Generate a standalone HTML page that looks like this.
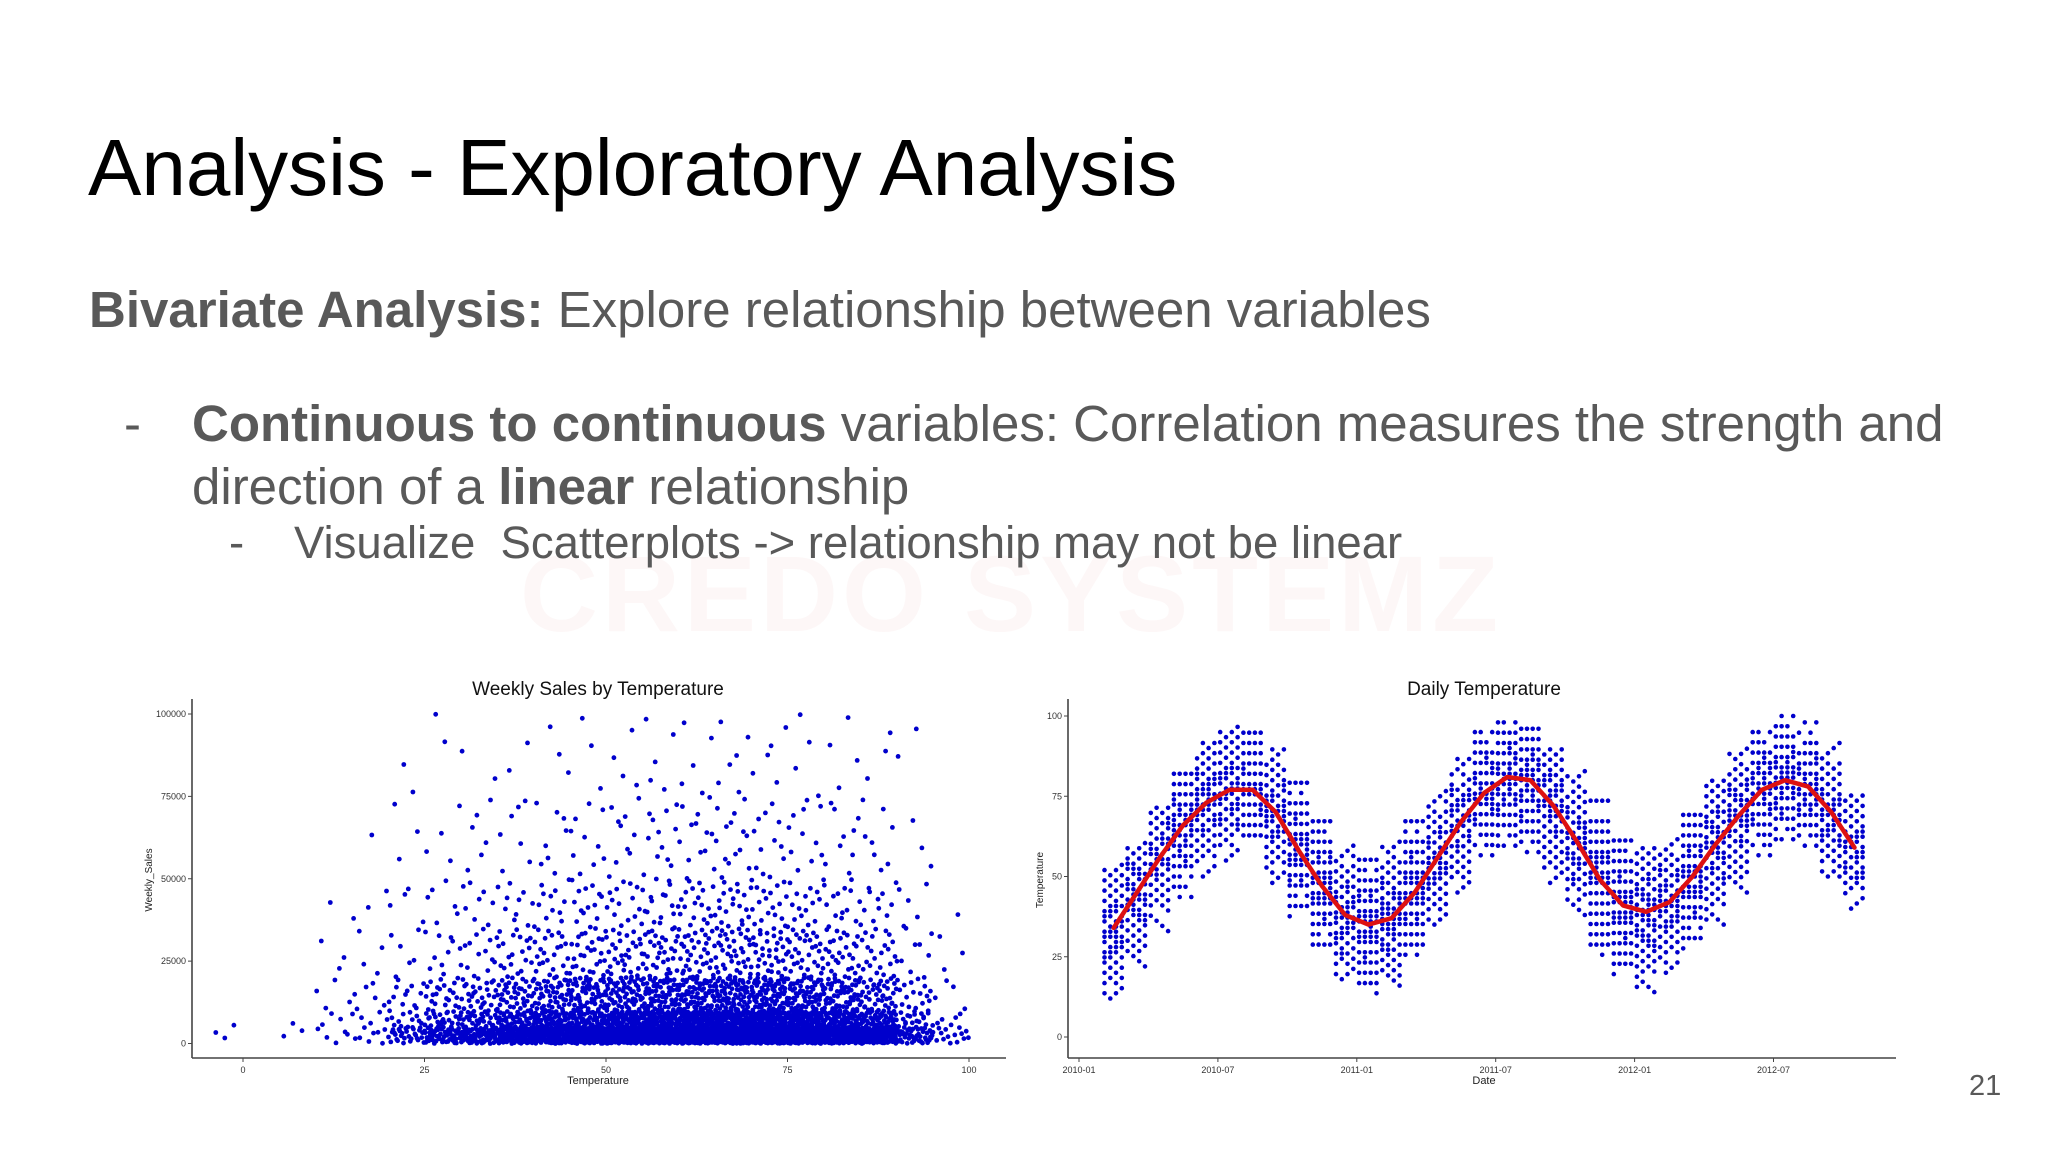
<!DOCTYPE html>
<html><head><meta charset="utf-8">
<style>
html,body{margin:0;padding:0;background:#fff;}
#slide{position:relative;width:2048px;height:1152px;overflow:hidden;background:#fff;font-family:"Liberation Sans",sans-serif;}
.t{position:absolute;white-space:nowrap;line-height:1;color:#595959;}
b{font-weight:bold;}
svg text{font-family:"Liberation Sans",sans-serif;}
</style></head>
<body>
<div id="slide">
<div class="t" style="left:520px;top:540px;font-size:108px;font-weight:bold;color:rgba(200,40,40,0.035);letter-spacing:4px;">CREDO SYSTEMZ</div>
<div class="t" style="left:88px;top:128px;font-size:80px;color:#000;">Analysis - Exploratory Analysis</div>
<div class="t" style="left:89px;top:284px;font-size:51px;"><b>Bivariate Analysis:</b> Explore relationship between variables</div>
<div class="t" style="left:124px;top:398px;font-size:51px;">-</div>
<div class="t" style="left:192px;top:398px;font-size:51px;"><b>Continuous to continuous</b> variables: Correlation measures the strength and</div>
<div class="t" style="left:192px;top:461px;font-size:51px;">direction of a <b>linear</b> relationship</div>
<div class="t" style="left:229px;top:520px;font-size:45.5px;">-</div>
<div class="t" style="left:294px;top:520px;font-size:45.5px;">Visualize&nbsp; Scatterplots -&gt; relationship may not be linear</div>
<div class="t" style="left:1969px;top:1072px;font-size:29px;">21</div>

<svg id="chart" width="2048" height="1152" style="position:absolute;left:0;top:0;">
<g id="left"></g>
<g id="right"></g>
</svg>
</div>
<script>
// ---- Left chart data ----
const tempBins = [-5,0,5,10,15,20,25,30,35,40,45,50,55,60,65,70,75,80,85,90,95];
const salesBands = [0,5000,10000,20000,35000,50000,75000,100000];
const binCounts = [
[2,1,0,0,0,0,0],[0,0,0,0,0,0,0],[2,1,0,0,0,0,0],[5,3,4,3,1,0,0],[8,5,6,4,3,1,0],
[30,12,12,6,4,3,2],[55,25,22,10,6,4,2],[70,30,28,14,8,6,2],[95,45,40,20,10,7,2],
[110,55,48,24,12,8,3],[130,60,55,28,14,10,3],[150,70,60,30,15,10,4],[160,75,65,32,17,12,5],
[175,80,70,35,18,13,5],[190,90,75,38,20,14,6],[180,85,72,36,18,12,5],[160,75,65,32,16,11,4],
[140,65,55,28,14,9,4],[110,50,42,22,11,8,3],[45,20,16,9,5,3,2],[15,5,4,3,1,0,0]];
const xTicksL = [0,25,50,75,100];
const yTicksL = [0,25000,50000,75000,100000];

// ---- Right chart data (month index: 0 = 2010-01) ----
const months = [1,2,3,4,5,6,7,8,9,10,11,12,13,14,15,16,17,18,19,20,21,22,23,24,25,26,27,28,29,30,31,32,33];
const smoothTemp = [34,45,56,66,73,77,77,70,58,47,38,35,37,45,56,67,76,81,80,72,61,49,41,39,42,50,60,69,77,80,78,70,59];
const lowTemp =  [12,22,33,42,50,55,58,48,36,24,18,12,16,24,35,45,55,58,56,48,38,24,18,14,20,26,35,45,55,60,58,50,40];
const highTemp = [55,62,72,82,92,98,96,90,80,68,60,56,62,68,78,88,96,98,96,90,84,74,62,60,62,70,80,90,96,100,98,92,76];
const xTickLabelsR = ["2010-01","2010-07","2011-01","2011-07","2012-01","2012-07"];
const xTickMonthsR = [0,6,12,18,24,30];
const yTicksR = [0,25,50,75,100];

const NS="http://www.w3.org/2000/svg";
function mk(tag,attrs,parent){const e=document.createElementNS(NS,tag);for(const k in attrs)e.setAttribute(k,attrs[k]);parent.appendChild(e);return e;}
function halton(i,b){let f=1,r=0;while(i>0){f/=b;r+=f*(i%b);i=Math.floor(i/b);}return r;}

// ---- Left chart ----
const L=document.getElementById('left');
const xL=v=>243+(v/100)*(969-243);
const yL=v=>1043.5-(v/100000)*(1043.5-714);
let hi=1;
const ptsL=mk('g',{},L);


tempBins.forEach((t,bi)=>{
  binCounts[bi].forEach((c,si)=>{
    for(let k=0;k<c;k++){
      const tx=t+halton(hi,2)*5;
      const sy=salesBands[si]+halton(hi,3)*(salesBands[si+1]-salesBands[si]);
      hi++;
      const d=mk('circle',{cx:xL(tx).toFixed(1),cy:yL(sy).toFixed(1),r:2.4,fill:'#0000cc'},ptsL);
      
      
    }
  });
});
mk('line',{x1:192,y1:699,x2:192,y2:1058,stroke:'#444','stroke-width':1.6},L);
mk('line',{x1:192,y1:1058,x2:1006,y2:1058,stroke:'#444','stroke-width':1.6},L);
xTicksL.forEach(v=>{
  mk('line',{x1:xL(v),y1:1058,x2:xL(v),y2:1062,stroke:'#444'},L);
  const t=mk('text',{x:xL(v),y:1073,'font-size':9,'text-anchor':'middle',fill:'#333'},L);t.textContent=v;
  
});
yTicksL.forEach(v=>{
  mk('line',{x1:188,y1:yL(v),x2:192,y2:yL(v),stroke:'#444'},L);
  const t=mk('text',{x:186,y:yL(v)+3,'font-size':9,'text-anchor':'end',fill:'#333'},L);t.textContent=v;
  
});
let tt=mk('text',{x:598,y:695,'font-size':19,'text-anchor':'middle',fill:'#111'},L);tt.textContent='Weekly Sales by Temperature';

tt=mk('text',{x:598,y:1084,'font-size':11,'text-anchor':'middle',fill:'#222'},L);tt.textContent='Temperature';

tt=mk('text',{x:152,y:880,'font-size':10,'text-anchor':'middle',fill:'#222',transform:'rotate(-90 152 880)'},L);tt.textContent='Weekly_Sales';


// ---- Right chart ----
const R=document.getElementById('right');
const xR=m=>1079+m*((1773.5-1079)/30);
const yR=v=>1037-(v/100)*(1037-716);
const ptsR=mk('g',{},R);


let hj=1;
months.forEach((m,i)=>{
  for(let w=0;w<4;w++){
    const mx=m+w/4+0.1;
    const lo=lowTemp[i],hg=highTemp[i],mid=smoothTemp[i];
    for(let v=lo;v<=hg;v+=1.6){
      const dist=Math.abs(v-mid)/Math.max(hg-mid,mid-lo);
      if(halton(hj++,2)<0.85-0.6*dist){
        const d=mk('circle',{cx:xR(mx).toFixed(1),cy:yR(v).toFixed(1),r:2.3,fill:'#0000cc'},ptsR);
        
        
      }
    }
  }
});
const linePts=months.map((m,i)=>xR(m+0.5).toFixed(1)+','+yR(smoothTemp[i]).toFixed(1)).join(' ');
const pl=mk('polyline',{points:linePts,fill:'none',stroke:'#dd1111','stroke-width':4.5,'stroke-linejoin':'round','stroke-linecap':'round'},R);

mk('line',{x1:1068,y1:699,x2:1068,y2:1058,stroke:'#444','stroke-width':1.6},R);
mk('line',{x1:1068,y1:1058,x2:1896,y2:1058,stroke:'#444','stroke-width':1.6},R);
xTickMonthsR.forEach((m,i)=>{
  mk('line',{x1:xR(m),y1:1058,x2:xR(m),y2:1062,stroke:'#444'},R);
  const t=mk('text',{x:xR(m),y:1073,'font-size':9,'text-anchor':'middle',fill:'#333'},R);t.textContent=xTickLabelsR[i];
  
});
yTicksR.forEach(v=>{
  mk('line',{x1:1064,y1:yR(v),x2:1068,y2:yR(v),stroke:'#444'},R);
  const t=mk('text',{x:1062,y:yR(v)+3,'font-size':9,'text-anchor':'end',fill:'#333'},R);t.textContent=v;
  
});
tt=mk('text',{x:1484,y:695,'font-size':19,'text-anchor':'middle',fill:'#111'},R);tt.textContent='Daily Temperature';

tt=mk('text',{x:1484,y:1084,'font-size':11,'text-anchor':'middle',fill:'#222'},R);tt.textContent='Date';

tt=mk('text',{x:1043,y:880,'font-size':10,'text-anchor':'middle',fill:'#222',transform:'rotate(-90 1043 880)'},R);tt.textContent='Temperature';

</script>
</body></html>
